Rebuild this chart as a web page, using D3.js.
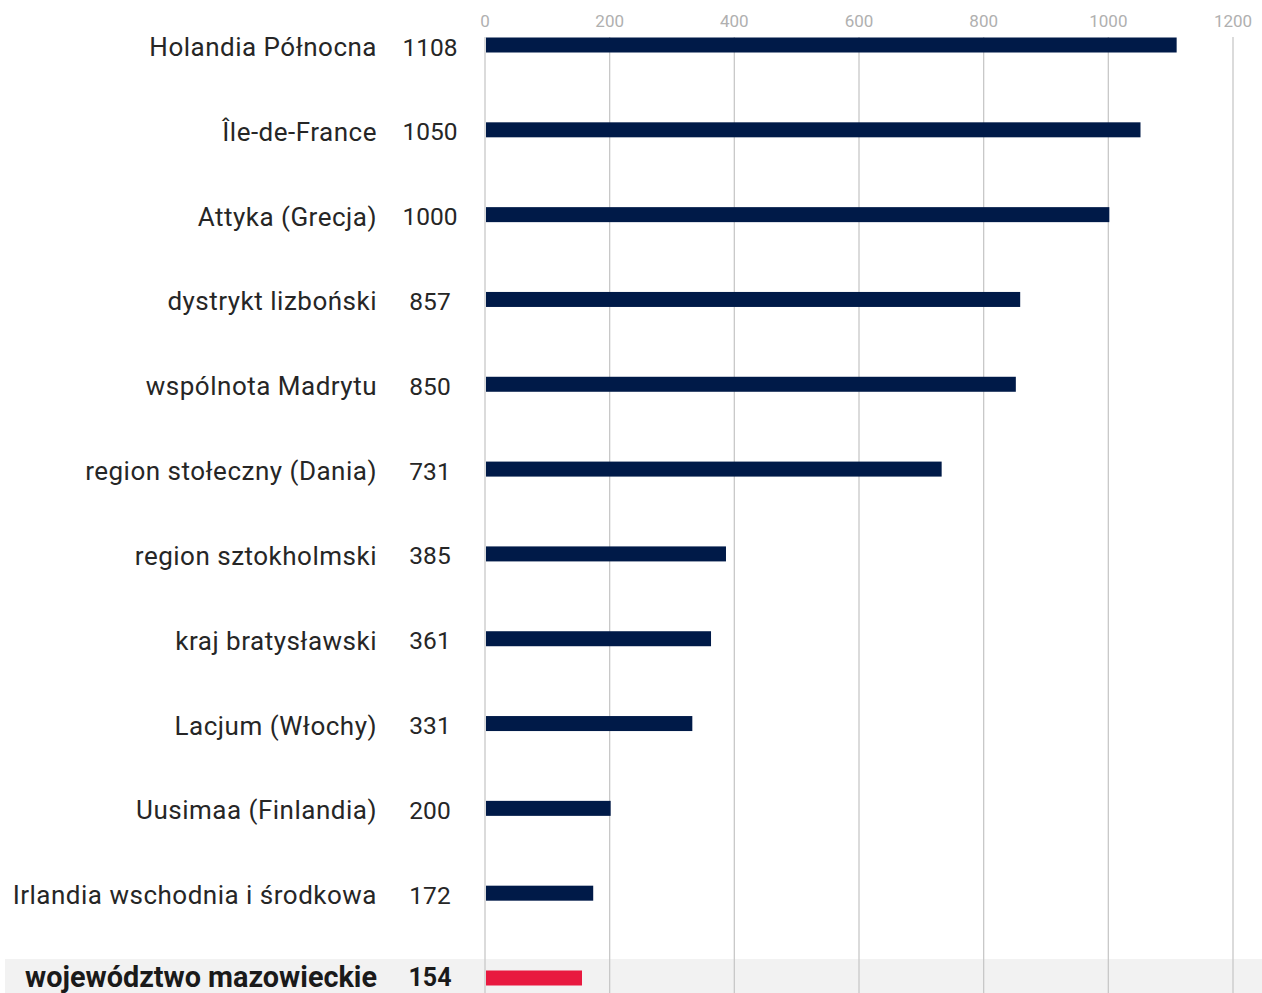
<!DOCTYPE html>
<html>
<head>
<meta charset="utf-8">
<script src="https://cdn.jsdelivr.net/npm/d3@7"></script>
<style>
  body { margin: 0; background: #fff; }
  #chart svg { display: block; }
</style>
</head>
<body>
<div id="chart"></div>
<script>
// regions, sorted as in the source
const regions = [
  "Holandia Północna", "Île-de-France", "Attyka (Grecja)", "dystrykt lizboński",
  "wspólnota Madrytu", "region stołeczny (Dania)", "region sztokholmski",
  "kraj bratysławski", "Lacjum (Włochy)", "Uusimaa (Finlandia)",
  "Irlandia wschodnia i środkowa", "województwo mazowieckie"
];
const values = [1108, 1050, 1000, 857, 850, 731, 385, 361, 331, 200, 172, 154];
const xTicks = [0, 200, 400, 600, 800, 1000, 1200];
const highlight = "województwo mazowieckie";

const data = regions.map((r, i) => ({region: r, value: values[i]}));

const width = 1262, height = 993;

const svg = d3.select("#chart").append("svg")
  .attr("width", width)
  .attr("height", height);

const xScale = d3.scaleLinear().domain([0, 1200]).range([485, 1233]);
const yScale = d3.scalePoint().domain(regions).range([45, 978]);

const isHi = d => d.region === highlight;
const boldFont = "'Liberation Sans Narrow', 'Roboto', sans-serif";
const plainFont = "'Roboto', 'Noto Sans', sans-serif";

// grey band behind the highlighted row
svg.append("rect")
  .attr("x", 5)
  .attr("y", yScale(highlight) - 19)
  .attr("width", width - 5)
  .attr("height", 40)
  .attr("fill", "#f2f2f2");

// vertical gridlines
svg.append("g")
  .selectAll("line")
  .data(xTicks)
  .enter().append("line")
    .attr("x1", d => xScale(d)).attr("x2", d => xScale(d))
    .attr("y1", 37).attr("y2", height)
    .attr("stroke", "#c8c8c8")
    .attr("stroke-width", 1.3);

// top axis labels
svg.append("g")
  .selectAll("text")
  .data(xTicks)
  .enter().append("text")
    .attr("x", d => xScale(d))
    .attr("y", 21)
    .attr("text-anchor", "middle")
    .attr("dominant-baseline", "central")
    .attr("font-family", "'Liberation Sans Narrow', 'Roboto', sans-serif")
    .attr("font-size", 17)
    .attr("fill", "#b0b0b0")
    .text(d => d);

// bars
svg.append("g")
  .selectAll("rect")
  .data(data)
  .enter().append("rect")
    .attr("x", xScale(0) + 1)
    .attr("y", d => yScale(d.region) - 7.5)
    .attr("width", d => xScale(d.value) - xScale(0))
    .attr("height", 15)
    .attr("fill", d => isHi(d) ? "#e8193f" : "#001a48");

// category labels
svg.append("g")
  .selectAll("text")
  .data(data)
  .enter().append("text")
    .attr("x", 377)
    .attr("y", d => yScale(d.region) + (isHi(d) ? -1 : 2))
    .attr("text-anchor", "end")
    .attr("dominant-baseline", "central")
    .attr("font-family", d => isHi(d) ? boldFont : plainFont)
    .attr("font-weight", d => isHi(d) ? "bold" : "normal")
    .attr("font-size", d => isHi(d) ? 28.8 : 26)
    .attr("letter-spacing", d => isHi(d) ? 0 : 0.5)
    .attr("fill", d => isHi(d) ? "#1a1a1a" : "#262626")
    .text(d => d.region);

// value labels
svg.append("g")
  .selectAll("text")
  .data(data)
  .enter().append("text")
    .attr("x", 430)
    .attr("y", d => yScale(d.region) + (isHi(d) ? -1 : 2))
    .attr("text-anchor", "middle")
    .attr("dominant-baseline", "central")
    .attr("font-family", d => isHi(d) ? boldFont : plainFont)
    .attr("font-weight", d => isHi(d) ? "bold" : "normal")
    .attr("font-size", d => isHi(d) ? 25 : 24.5)
    .attr("fill", d => isHi(d) ? "#1a1a1a" : "#262626")
    .text(d => d.value);
</script>
</body>
</html>
